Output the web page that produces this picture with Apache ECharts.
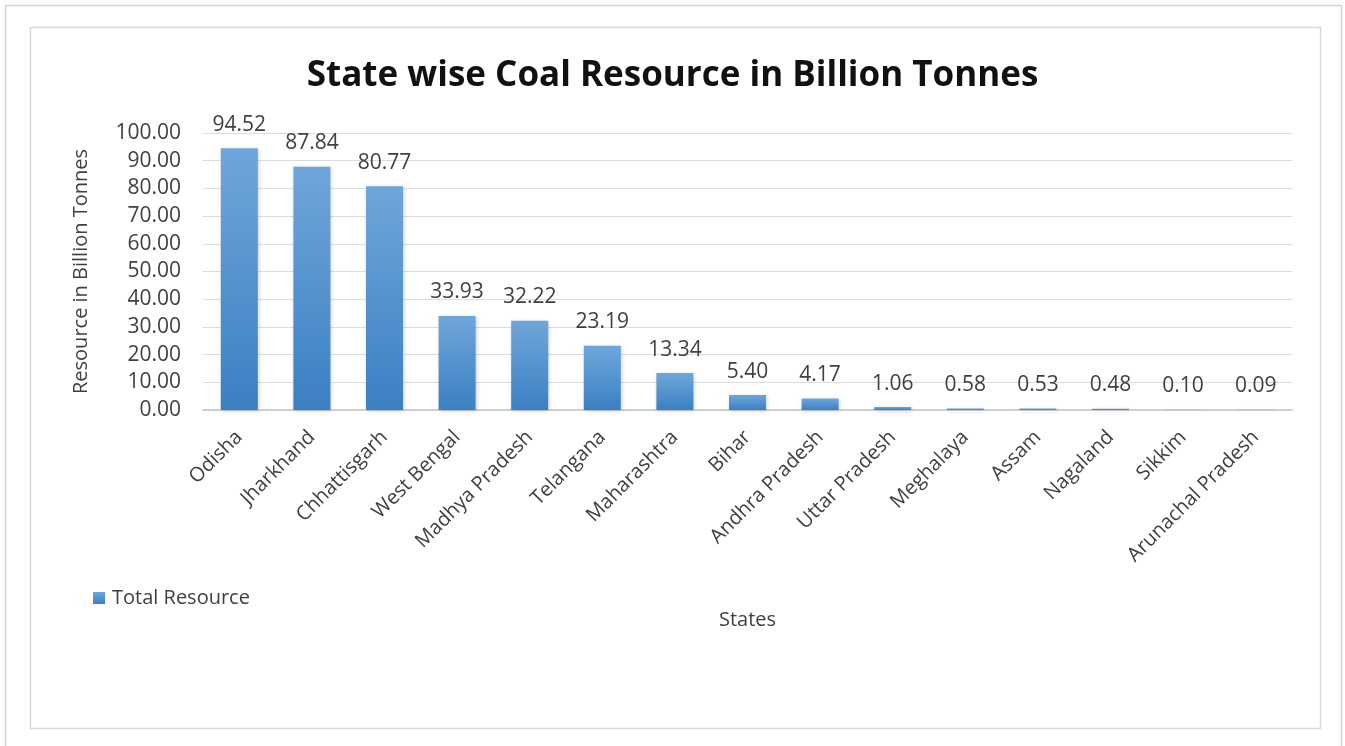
<!DOCTYPE html>
<html>
<head>
<meta charset="utf-8">
<script src="https://cdn.jsdelivr.net/npm/echarts@6/dist/echarts.min.js"></script>
<style>
  html, body { margin: 0; padding: 0; background: #fff; }
  #chart { width: 1345px; height: 746px; }
</style>
</head>
<body>
<div id="chart"></div>
<script>
// states and coal resource (billion tonnes)
const states = ['Odisha', 'Jharkhand', 'Chhattisgarh', 'West Bengal', 'Madhya Pradesh', 'Telangana',
  'Maharashtra', 'Bihar', 'Andhra Pradesh', 'Uttar Pradesh', 'Meghalaya', 'Assam', 'Nagaland',
  'Sikkim', 'Arunachal Pradesh']
const totalResource = [94.52, 87.84, 80.77, 33.93, 32.22, 23.19, 13.34, 5.40, 4.17, 1.06, 0.58, 0.53, 0.48, 0.10, 0.09]

const txt = '#404040'
const font = '"Open Sans", "Liberation Sans", sans-serif'

var myChart = echarts.init(document.getElementById('chart'))
var option = {
  animation: false,
  title: {
    text: 'State wise Coal Resource in Billion Tonnes',
    left: 'center',
    top: 54,
    textStyle: { color: '#111', fontSize: 35, fontWeight: 'bold', fontFamily: font }
  },
  graphic: [
    { type: 'rect', shape: { x: 5.5, y: 5.5, width: 1336, height: 760 }, style: { fill: 'none', stroke: '#d4d4d4', lineWidth: 1.5 } },
    { type: 'rect', shape: { x: 30.5, y: 27.5, width: 1290, height: 701 }, style: { fill: 'none', stroke: '#d9d9d9', lineWidth: 1.5 } }
  ],
  legend: {
    left: 88,
    top: 583,
    icon: 'rect',
    itemWidth: 12,
    itemHeight: 12,
    itemGap: 4,
    textStyle: { color: txt, fontSize: 20, fontFamily: font, padding: [0, 0, 0, 2] }
  },
  grid: { left: 203, right: 53, top: 133, bottom: 336 },
  xAxis: {
    type: 'category',
    data: states,
    name: 'States',
    nameLocation: 'middle',
    nameGap: 200,
    nameTextStyle: { color: txt, fontSize: 20, fontFamily: font },
    axisTick: { show: false },
    axisLine: { lineStyle: { color: '#d0d0d0', width: 2 } },
    axisLabel: { rotate: 45, color: txt, fontSize: 20, fontFamily: font, margin: 24, interval: 0 }
  },
  yAxis: {
    type: 'value',
    min: 0,
    max: 100,
    interval: 10,
    name: 'Resource in Billion Tonnes',
    nameLocation: 'middle',
    nameGap: 112,
    nameTextStyle: { color: txt, fontSize: 20, fontFamily: font },
    axisLine: { show: false },
    axisTick: { show: false },
    splitLine: { lineStyle: { color: '#dcdcdc', width: 1 } },
    axisLabel: {
      color: txt, fontSize: 21, fontFamily: font, margin: 22,
      formatter: function (v) { return v.toFixed(2) }
    }
  },
  series: [{
    name: 'Total Resource',
    type: 'bar',
    data: totalResource,
    barWidth: '51%',
    itemStyle: {
      color: new echarts.graphic.LinearGradient(0, 0, 0, 1, [
        { offset: 0, color: '#6fa6da' },
        { offset: 1, color: '#3b80c3' }
      ]),
      shadowColor: 'rgba(0,0,0,0.18)',
      shadowBlur: 4,
      shadowOffsetX: 1,
      shadowOffsetY: 1
    },
    label: {
      show: true,
      position: 'top',
      distance: 13,
      color: txt,
      fontSize: 21,
      fontFamily: font,
      formatter: function (p) { return p.value.toFixed(2) }
    }
  }]
}
myChart.setOption(option)
</script>
</body>
</html>
